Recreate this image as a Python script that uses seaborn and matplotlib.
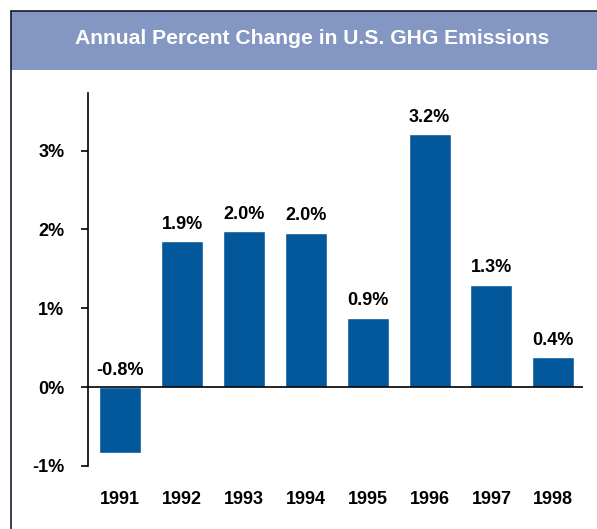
import matplotlib
matplotlib.use("Agg")
import matplotlib.pyplot as plt
import seaborn as sns
import pandas as pd
from matplotlib.patches import Rectangle
from matplotlib.lines import Line2D

years = ["1991", "1992", "1993", "1994", "1995", "1996", "1997", "1998"]
change = [-0.84, 1.85, 1.98, 1.96, 0.88, 3.21, 1.30, 0.38]
labels = ["-0.8%", "1.9%", "2.0%", "2.0%", "0.9%", "3.2%", "1.3%", "0.4%"]
yticks = [-1, 0, 1, 2, 3]
ytick_labels = ["-1%", "0%", "1%", "2%", "3%"]

bar_color = "#02589b"
band_color = "#8496c2"

sns.set_style("white")
plt.rcParams["font.family"] = ["Liberation Sans", "DejaVu Sans"]

df = pd.DataFrame({"year": years, "change": change})

fig = plt.figure(figsize=(5.97, 5.29), dpi=100)
W, H = 597, 529

# title band and frame lines
fig.add_artist(Rectangle((11 / W, 1 - 70 / H), 1 - 11 / W, 59 / H,
                         transform=fig.transFigure, facecolor=band_color,
                         edgecolor="none"))
fig.add_artist(Line2D([11 / W, 1], [1 - 11 / H, 1 - 11 / H],
                      transform=fig.transFigure, color="#1a1a2e", lw=1.2))
fig.add_artist(Line2D([11 / W, 11 / W], [0, 1 - 11 / H],
                      transform=fig.transFigure, color="#1a1a2e", lw=1.2))
fig.text(312 / W, 1 - 38 / H, "Annual Percent Change in U.S. GHG Emissions",
         ha="center", va="center", color="white", fontsize=15.2,
         fontweight="bold")

ax = fig.add_axes([88 / W, 63 / H, (583 - 88) / W, (466 - 93) / H])
sns.barplot(data=df, x="year", y="change", color=bar_color, width=0.68,
            saturation=1, ax=ax)

ax.set_xlim(-0.52, 7.48)
ax.set_ylim(-1, 3.73)
ax.axhline(0, color="black", lw=1.2)

for i, (v, lab) in enumerate(zip(change, labels)):
    ax.annotate(lab, (i, max(v, 0)), xytext=(0, 6), textcoords="offset points",
                ha="center", va="bottom", fontsize=13, fontweight="bold",
                color="black")

ax.set_yticks(yticks)
ax.set_yticklabels(ytick_labels, fontsize=13, fontweight="bold", color="black")
ax.set_xticks(range(len(years)))
ax.set_xticklabels(years, fontsize=13, fontweight="bold", color="black")
ax.tick_params(axis="y", length=5, width=1.2, pad=12, left=True, color="black")
ax.tick_params(axis="x", length=0, pad=18)
ax.set_xlabel("")
ax.set_ylabel("")

for s in ["top", "right", "bottom"]:
    ax.spines[s].set_visible(False)
ax.spines["left"].set_color("black")
ax.spines["left"].set_linewidth(1.2)

fig.savefig("out.png", dpi=100)
